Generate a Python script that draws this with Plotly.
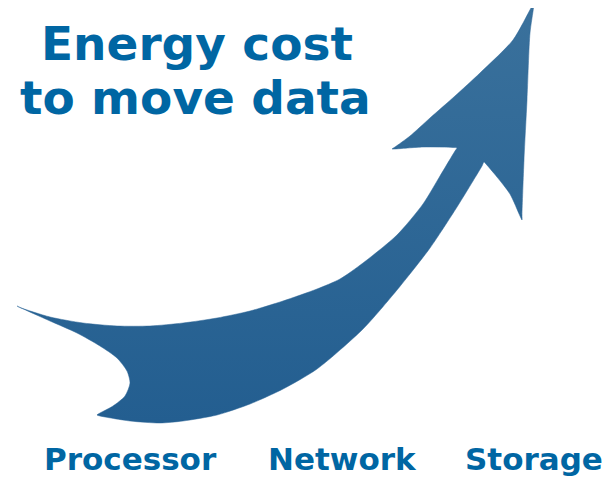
import plotly.graph_objects as go

# Arrow outline (drawing units match the 613x478 picture: x right, y down)
arrow_x = [17, 20, 50, 83, 117, 150, 183, 217, 250, 283, 317, 340, 363, 397, 423, 440, 455, 457,
           454, 423, 395, 392, 395, 410, 430, 455, 480, 513, 531, 534,
           533.5, 530, 527, 524, 522, 522,
           520, 510, 497, 486, 484,
           482, 473, 457, 430, 397, 363, 317, 283, 250, 217, 183, 160, 130, 100, 97,
           100, 113, 125, 130, 127, 117, 100, 77, 50, 20, 17]
arrow_y = [306, 307.5, 317, 323, 326, 326, 323, 318, 311, 301, 289, 279, 263, 235, 204, 176, 151, 148,
           147.5, 147, 149, 149, 147, 136, 118, 96, 73, 40, 8, 3,
           8, 33, 100, 160, 215, 220,
           216, 194, 177, 164, 162,
           166, 181, 207, 248, 290, 329, 369, 389, 404, 415, 421, 423, 421, 416, 415,
           413, 406, 396, 383, 371, 358, 346, 333, 321, 307.5, 306]

title_lines = ["Energy cost", "to move data"]
title_x = [197, 195]
title_y = [43, 97]

categories = ["Processor", "Network", "Storage"]
cat_x = [130, 342, 534]
cat_y = 459

TEXT_BLUE = "#0066a3"

fig = go.Figure()
fig.add_trace(go.Scatter(
    x=arrow_x, y=arrow_y, mode="lines", fill="toself",
    line=dict(width=0.5, color="#2a6597", shape="spline", smoothing=0.7),
    fillgradient=dict(type="vertical",
                      colorscale=[[0, "#235e90"], [1, "#3a719c"]]),
    hoverinfo="skip", showlegend=False,
))

for t, x, y in zip(title_lines, title_x, title_y):
    fig.add_annotation(x=x, y=y, text="<b>%s</b>" % t, showarrow=False,
                       xanchor="center", yanchor="middle",
                       font=dict(family="DejaVu Sans", size=47, color=TEXT_BLUE))

for c, x in zip(categories, cat_x):
    fig.add_annotation(x=x, y=cat_y, text="<b>%s</b>" % c, showarrow=False,
                       xanchor="center", yanchor="middle",
                       font=dict(family="DejaVu Sans", size=31, color=TEXT_BLUE))

# The page puts the figure 8 px from the top-left corner, so the figure
# covers picture pixels 8..613 x 8..478.
fig.update_layout(
    width=605, height=470,
    margin=dict(l=0, r=0, t=0, b=0),
    paper_bgcolor="white", plot_bgcolor="white",
    xaxis=dict(range=[8, 613], visible=False, fixedrange=True),
    yaxis=dict(range=[478, 8], visible=False, fixedrange=True),
)
fig.write_html("out.html")
